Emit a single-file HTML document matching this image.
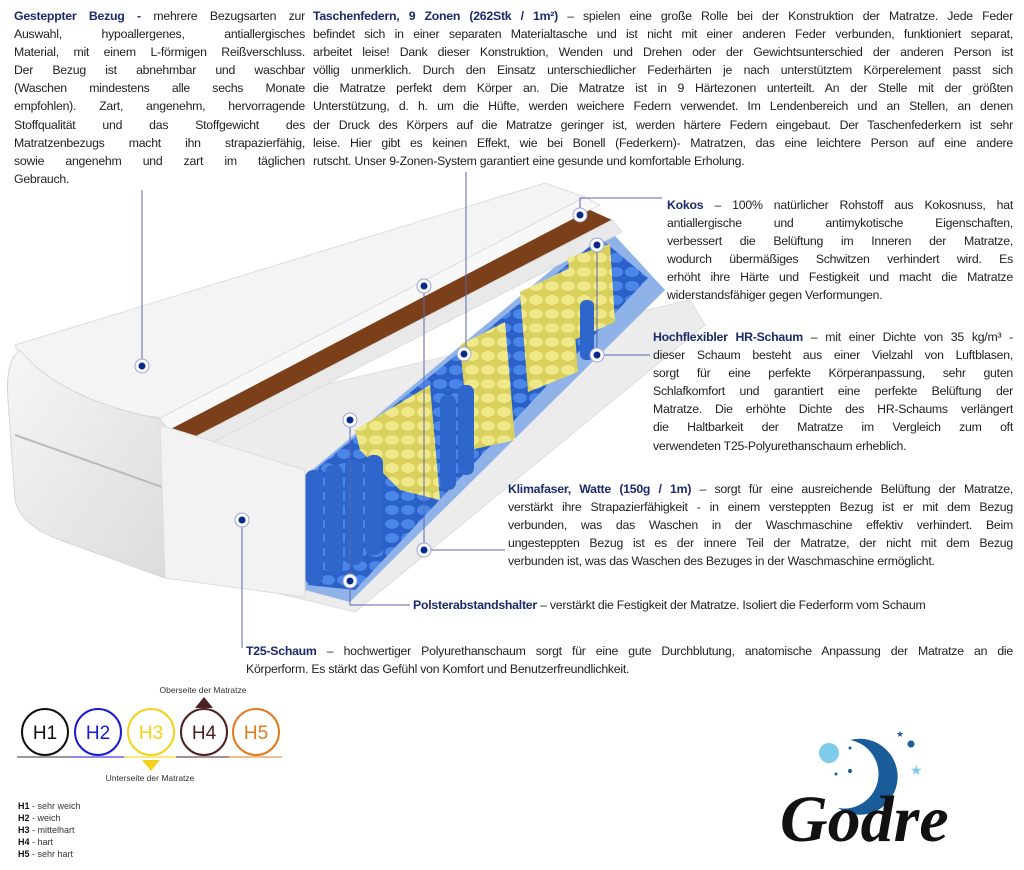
<!DOCTYPE html>
<html><head><meta charset="utf-8"><style>
body{margin:0;width:1024px;height:870px;background:#fff;position:relative;overflow:hidden;font-family:"Liberation Sans",sans-serif;color:#222}
.blk{position:absolute;font-size:12.3px;line-height:18.1px;letter-spacing:-0.25px}
.blk div{text-align:justify;text-align-last:justify;white-space:nowrap;overflow:visible}
.blk div.l{text-align-last:left}
b{color:#1c2a6b}
svg{position:absolute;left:0;top:0}
.lg{position:absolute;font-size:9px;line-height:12px;color:#333;left:18px;top:800px}
.lg b{color:#111}
</style></head><body>
<svg width="1024" height="870">
<defs>
<linearGradient id="gl" x1="0" y1="0" x2="1" y2="1"><stop offset="0" stop-color="#f6f6f6"/><stop offset="1" stop-color="#dcdcdc"/></linearGradient>
<pattern id="sp" width="16" height="14" patternUnits="userSpaceOnUse"><rect width="16" height="14" fill="#2a60c8"/><ellipse cx="8" cy="6" rx="7" ry="5" fill="#4a86e8"/></pattern>
<pattern id="yp" width="16" height="14" patternUnits="userSpaceOnUse"><rect width="16" height="14" fill="#d8cf5c"/><ellipse cx="8" cy="6" rx="7" ry="5" fill="#f0e98a"/></pattern>
</defs>
<polygon points="150,425 690,300 705,325 355,612 160,565" fill="#ececec" stroke="#ddd"/>
<polygon points="300,480 605,225 665,290 350,602 305,590" fill="#8fb2e8"/>
<polygon points="15,345 545,183 585,197 165,418 40,405" fill="#f4f4f4" stroke="#ddd"/>
<path d="M20,350 Q5,360 8,400 L15,500 Q20,525 60,540 L165,578 L165,420 Q60,400 20,350Z" fill="url(#gl)" stroke="#d5d5d5"/>
<line x1="15" y1="435" x2="165" y2="488" stroke="#bbb" stroke-width="2"/>
<polygon points="160,418 585,197 600,205 170,432" fill="#f8f8f8" stroke="#ddd"/>
<polygon points="165,432 590,210 612,220 175,450" fill="#7b4019"/>
<polygon points="170,450 612,220 622,232 175,462" fill="#e9e9e9" stroke="#ddd"/>
<polygon points="305,478 600,238 648,278 355,590 308,585" fill="url(#sp)"/>
<polygon points="355,430 430,385 440,500 400,490 360,450" fill="url(#yp)"/>
<polygon points="460,345 505,322 515,440 470,450" fill="url(#yp)"/>
<polygon points="520,292 570,268 578,372 528,392" fill="url(#yp)"/>
<polygon points="568,258 610,244 615,322 574,340" fill="url(#yp)"/>
<g fill="#2f66cc">
<rect x="305" y="470" width="18" height="115" rx="8"/><rect x="325" y="465" width="18" height="110" rx="8"/><rect x="345" y="460" width="18" height="105" rx="8"/><rect x="365" y="455" width="18" height="100" rx="8"/>
<rect x="440" y="395" width="16" height="95" rx="7"/><rect x="458" y="385" width="16" height="90" rx="7"/><rect x="580" y="300" width="14" height="60" rx="6"/>
</g>
<polygon points="160,425 305,470 305,597 165,578" fill="#f2f2f2" stroke="#ddd"/>
<g stroke="#5a66b0" stroke-width="1" fill="none">
<line x1="142" y1="190" x2="142" y2="366"/>
<line x1="466" y1="172" x2="466" y2="354"/>
<polyline points="424,286 424,550 505,550"/>
<polyline points="580,215 580,198 662,198"/>
<polyline points="597,245 597,355 650,355"/>
<polyline points="350,420 350,605 410,605"/>
<line x1="242" y1="520" x2="242" y2="648"/>
</g>
<g fill="#fff" stroke="#9aa4d8" stroke-width="1">
<circle cx="142" cy="366" r="7"/><circle cx="424" cy="286" r="7"/><circle cx="350" cy="420" r="7"/><circle cx="464" cy="354" r="7"/><circle cx="580" cy="215" r="7"/><circle cx="597" cy="245" r="7"/><circle cx="597" cy="355" r="7"/><circle cx="424" cy="550" r="7"/><circle cx="350" cy="581" r="7"/><circle cx="242" cy="520" r="7"/>
</g>
<g fill="#0a2a8a">
<circle cx="142" cy="366" r="3.5"/><circle cx="424" cy="286" r="3.5"/><circle cx="350" cy="420" r="3.5"/><circle cx="464" cy="354" r="3.5"/><circle cx="580" cy="215" r="3.5"/><circle cx="597" cy="245" r="3.5"/><circle cx="597" cy="355" r="3.5"/><circle cx="424" cy="550" r="3.5"/><circle cx="350" cy="581" r="3.5"/><circle cx="242" cy="520" r="3.5"/>
</g>
<g font-family="Liberation Sans,sans-serif" font-size="19" text-anchor="middle" stroke-width="2" fill="none">
<circle cx="45" cy="732" r="23" stroke="#111"/><circle cx="98" cy="732" r="23" stroke="#1a1ad0"/><circle cx="151" cy="732" r="23" stroke="#f2d21a"/><circle cx="204" cy="732" r="23" stroke="#4a2020"/><circle cx="256" cy="732" r="23" stroke="#e07a20"/>
<text x="45" y="739" fill="#111" stroke="none">H1</text><text x="98" y="739" fill="#1a1ad0" stroke="none">H2</text><text x="151" y="739" fill="#f2d21a" stroke="none">H3</text><text x="204" y="739" fill="#4a2020" stroke="none">H4</text><text x="256" y="739" fill="#e07a20" stroke="none">H5</text>
</g>
<line x1="17" y1="757" x2="70" y2="757" stroke="#333"/><line x1="70" y1="757" x2="124" y2="757" stroke="#1a1ad0"/><line x1="124" y1="757" x2="176" y2="757" stroke="#f2d21a"/><line x1="176" y1="757" x2="229" y2="757" stroke="#4a2020"/><line x1="229" y1="757" x2="282" y2="757" stroke="#e07a20"/>
<polygon points="195,708 213,708 204,697" fill="#4a2020"/>
<polygon points="142,760 160,760 151,771" fill="#f2d21a"/>
<text x="203" y="693" font-size="8.5" text-anchor="middle" fill="#333" font-family="Liberation Sans,sans-serif">Oberseite der Matratze</text>
<text x="150" y="781" font-size="8.5" text-anchor="middle" fill="#333" font-family="Liberation Sans,sans-serif">Unterseite der Matratze</text>
<path d="M850,740 A38,38 0 1 1 838,808 A32,32 0 1 0 850,740Z" fill="#1a5b99"/>
<circle cx="829" cy="753" r="10" fill="#7ecbea"/>
<circle cx="911" cy="744" r="3.5" fill="#1a5b99"/><circle cx="850" cy="771" r="2" fill="#1a5b99"/><circle cx="836" cy="774" r="1.5" fill="#1a5b99"/><circle cx="850" cy="748" r="1.5" fill="#1a5b99"/>
<text x="910" y="775" font-size="14" fill="#7ecbea">★</text><text x="896" y="737" font-size="9" fill="#1a5b99">★</text>
<text x="780" y="841" font-family="Liberation Serif,serif" font-style="italic" font-weight="bold" font-size="66" fill="#111">Godre</text>
</svg>

<div class="blk" style="left:14px;top:7px;width:291px">
<div><b>Gesteppter Bezug -</b> mehrere Bezugsarten zur</div>
<div>Auswahl, hypoallergenes, antiallergisches</div>
<div>Material, mit einem L-förmigen Reißverschluss.</div>
<div>Der Bezug ist abnehmbar und waschbar</div>
<div>(Waschen mindestens alle sechs Monate</div>
<div>empfohlen). Zart, angenehm, hervorragende</div>
<div>Stoffqualität und das Stoffgewicht des</div>
<div>Matratzenbezugs macht ihn strapazierfähig,</div>
<div>sowie angenehm und zart im täglichen</div>
<div class="l">Gebrauch.</div>
</div>

<div class="blk" style="left:313px;top:7px;width:700px">
<div><b>Taschenfedern, 9 Zonen (262Stk / 1m²)</b> – spielen eine große Rolle bei der Konstruktion der Matratze. Jede Feder</div>
<div>befindet sich in einer separaten Materialtasche und ist nicht mit einer anderen Feder verbunden, funktioniert separat,</div>
<div>arbeitet leise! Dank dieser Konstruktion, Wenden und Drehen oder der Gewichtsunterschied der anderen Person ist</div>
<div>völlig unmerklich. Durch den Einsatz unterschiedlicher Federhärten je nach unterstütztem Körperelement passt sich</div>
<div>die Matratze perfekt dem Körper an. Die Matratze ist in 9 Härtezonen unterteilt. An der Stelle mit der größten</div>
<div>Unterstützung, d. h. um die Hüfte, werden weichere Federn verwendet. Im Lendenbereich und an Stellen, an denen</div>
<div>der Druck des Körpers auf die Matratze geringer ist, werden härtere Federn eingebaut. Der Taschenfederkern ist sehr</div>
<div>leise. Hier gibt es keinen Effekt, wie bei Bonell (Federkern)- Matratzen, das eine leichtere Person auf eine andere</div>
<div class="l">rutscht. Unser 9-Zonen-System garantiert eine gesunde und komfortable Erholung.</div>
</div>

<div class="blk" style="left:667px;top:196px;width:346px">
<div><b>Kokos</b> – 100% natürlicher Rohstoff aus Kokosnuss, hat</div>
<div>antiallergische und antimykotische Eigenschaften,</div>
<div>verbessert die Belüftung im Inneren der Matratze,</div>
<div>wodurch übermäßiges Schwitzen verhindert wird. Es</div>
<div>erhöht ihre Härte und Festigkeit und macht die Matratze</div>
<div class="l">widerstandsfähiger gegen Verformungen.</div>
</div>

<div class="blk" style="left:653px;top:328px;width:360px">
<div><b>Hochflexibler HR-Schaum</b> – mit einer Dichte von 35 kg/m³ -</div>
<div>dieser Schaum besteht aus einer Vielzahl von Luftblasen,</div>
<div>sorgt für eine perfekte Körperanpassung, sehr guten</div>
<div>Schlafkomfort und garantiert eine perfekte Belüftung der</div>
<div>Matratze. Die erhöhte Dichte des HR-Schaums verlängert</div>
<div>die Haltbarkeit der Matratze im Vergleich zum oft</div>
<div class="l">verwendeten T25-Polyurethanschaum erheblich.</div>
</div>

<div class="blk" style="left:508px;top:480px;width:505px">
<div><b>Klimafaser, Watte (150g / 1m)</b> – sorgt für eine ausreichende Belüftung der Matratze,</div>
<div>verstärkt ihre Strapazierfähigkeit - in einem versteppten Bezug ist er mit dem Bezug</div>
<div>verbunden, was das Waschen in der Waschmaschine effektiv verhindert. Beim</div>
<div>ungesteppten Bezug ist es der innere Teil der Matratze, der nicht mit dem Bezug</div>
<div class="l">verbunden ist, was das Waschen des Bezuges in der Waschmaschine ermöglicht.</div>
</div>

<div class="blk" style="left:413px;top:596px;width:600px">
<div class="l"><b>Polsterabstandshalter</b> – verstärkt die Festigkeit der Matratze. Isoliert die Federform vom Schaum</div>
</div>

<div class="blk" style="left:246px;top:642px;width:767px">
<div><b>T25-Schaum</b> – hochwertiger Polyurethanschaum sorgt für eine gute Durchblutung, anatomische Anpassung der Matratze an die</div>
<div class="l">Körperform. Es stärkt das Gefühl von Komfort und Benutzerfreundlichkeit.</div>
</div>

<div class="lg"><b>H1</b> - sehr weich<br><b>H2</b> - weich<br><b>H3</b> - mittelhart<br><b>H4</b> - hart<br><b>H5</b> - sehr hart</div>
</body></html>
